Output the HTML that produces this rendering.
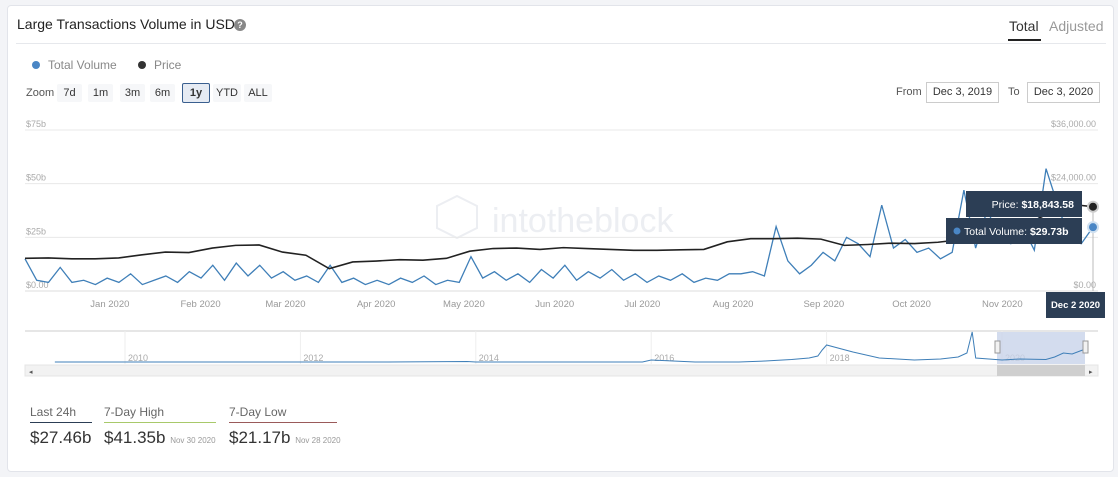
<!DOCTYPE html>
<html><head><meta charset="utf-8">
<style>
body{margin:0;width:1118px;height:477px;background:#f3f4f7;font-family:"Liberation Sans",sans-serif;overflow:hidden;position:relative}
.card{position:absolute;left:7px;top:5px;width:1105px;height:465px;background:#fff;border:1px solid #e2e4ea;border-radius:4px}
.abs{position:absolute;white-space:nowrap}
.btn{position:absolute;top:84px;height:18px;line-height:18px;font-size:11px;color:#333;background:#f6f7f9;text-align:center;border-radius:2px}
.inp{position:absolute;top:82px;height:19px;line-height:19px;font-size:11px;color:#333;border:1px solid #ccc;text-align:center}
</style></head><body>
<div class="card"></div>
<div class="abs" style="left:17px;top:16px;font-size:14px;color:#222">Large Transactions Volume in USD</div>
<div class="abs" style="left:234px;top:19px;width:12px;height:12px;border-radius:6px;background:#888;color:#fff;font-size:9px;line-height:12px;text-align:center;font-weight:bold">?</div>
<div class="abs" style="left:1009px;top:18px;font-size:14px;color:#333">Total</div>
<div class="abs" style="left:1008px;top:39px;width:33px;height:2px;background:#222"></div>
<div class="abs" style="left:1049px;top:18px;font-size:14px;color:#999">Adjusted</div>
<div class="abs" style="left:16px;top:43px;width:1090px;height:1px;background:#e6e8ec"></div>
<div class="abs" style="left:32px;top:58px;font-size:12px;color:#888"><span style="display:inline-block;width:8px;height:8px;border-radius:4px;background:#4a86c5;margin-right:8px"></span>Total Volume</div>
<div class="abs" style="left:138px;top:58px;font-size:12px;color:#888"><span style="display:inline-block;width:8px;height:8px;border-radius:4px;background:#333;margin-right:8px"></span>Price</div>
<div class="abs" style="left:26px;top:87px;font-size:11px;color:#555">Zoom</div>
<div class="btn" style="left:57px;width:25px">7d</div>
<div class="btn" style="left:88px;width:25px">1m</div>
<div class="btn" style="left:120px;width:25px">3m</div>
<div class="btn" style="left:150px;width:25px">6m</div>
<div class="btn" style="left:182px;width:26px;top:83px;border:1.5px solid #3a5f8f;background:#e6ebf3;font-weight:bold">1y</div>
<div class="btn" style="left:213px;width:28px">YTD</div>
<div class="btn" style="left:244px;width:28px">ALL</div>
<div class="abs" style="left:896px;top:86px;font-size:11px;color:#555">From</div>
<div class="inp" style="left:926px;width:71px">Dec 3, 2019</div>
<div class="abs" style="left:1008px;top:86px;font-size:11px;color:#555">To</div>
<div class="inp" style="left:1027px;width:71px">Dec 3, 2020</div>

<svg class="abs" style="left:0;top:0" width="1118" height="477">
<g id="wm" fill="none" stroke="#eceef2" stroke-width="2">
<polygon points="457,196 477,206 477,228 457,238 437,228 437,206"/>
<text x="492" y="232" fill="#eceef2" stroke="none" font-size="34" font-family="Liberation Sans">intotheblock</text>
</g>
<g id="grid"></g><g id="vol"></g><g id="price"></g><g id="nav"></g><g id="tips"></g>
</svg>

<div class="abs" style="left:30px;top:405px;font-size:12px;color:#666">Last 24h</div>
<div class="abs" style="left:30px;top:422px;width:62px;height:1px;background:#2c3e55"></div>
<div class="abs" style="left:30px;top:428px;font-size:17px;color:#333">$27.46b</div>
<div class="abs" style="left:104px;top:405px;font-size:12px;color:#666">7-Day High</div>
<div class="abs" style="left:104px;top:422px;width:112px;height:1px;background:#a8c96a"></div>
<div class="abs" style="left:104px;top:428px;font-size:17px;color:#333">$41.35b <span style="font-size:8px;color:#999">Nov 30 2020</span></div>
<div class="abs" style="left:229px;top:405px;font-size:12px;color:#666">7-Day Low</div>
<div class="abs" style="left:229px;top:422px;width:108px;height:1px;background:#9a5a5a"></div>
<div class="abs" style="left:229px;top:428px;font-size:17px;color:#333">$21.17b <span style="font-size:8px;color:#999">Nov 28 2020</span></div>

<script>
const volumeTicks=[0,25,50,75];
const volumeTickLabels=["$0.00","$25b","$50b","$75b"];
const priceTicks=[0,12000,24000,36000];
const priceTickLabels=["$0.00","","$24,000.00","$36,000.00"];
const monthLabels=["Jan 2020","Feb 2020","Mar 2020","Apr 2020","May 2020","Jun 2020","Jul 2020","Aug 2020","Sep 2020","Oct 2020","Nov 2020"];
const monthDays=[29,60,89,120,150,181,211,242,273,303,334];
const volumeValues=[15,5,4,11,4,5,3,6,4,8,3,5,7,4,9,6,12,5,13,7,12,6,9,5,7,4,12,4,6,3,5,3,6,4,7,3,5,4,16,6,9,5,8,4,10,6,12,5,9,6,10,5,8,4,7,5,8,4,6,5,8,8,9,7,30,14,8,12,18,14,25,22,16,40,20,24,18,20,15,18,47,20,38,24,22,30,19,57,40,24,22,29.73];
const priceDays=[0,8,16,24,32,40,48,56,64,72,80,88,96,104,112,120,128,136,144,152,160,168,176,184,192,200,208,216,224,232,240,248,256,264,272,280,288,296,304,312,320,328,336,344,352,360,365];
const priceValues=[7300,7400,7200,7200,7400,8100,8700,8600,9600,10200,10300,8700,8000,5000,6500,6700,7000,6900,7300,8900,9500,9600,9300,9700,9500,9300,9100,9100,9200,9300,11000,11700,11700,11800,11600,10200,10400,10700,10600,10900,11500,13100,14000,15500,18000,19200,18843.58];
const navYears=[2009.2,2010,2011,2012,2013,2013.9,2014,2014.5,2015,2015.9,2016,2016.5,2017,2017.3,2017.6,2017.8,2017.9,2017.95,2018.0,2018.3,2018.6,2019,2019.3,2019.5,2019.6,2019.66,2019.7,2019.85,2020,2020.2,2020.5,2020.6,2020.7,2020.8,2020.92];
const navValues=[0,0,0,0,0,1,0,0,0,0,4,0,0,2,5,8,12,24,34,20,8,4,6,10,18,60,8,6,4,6,5,10,18,16,24];

const X0=25,X1=1093,Y0=291,YT=130;
const xDay=d=>X0+d*(X1-X0)/365;
const yVol=v=>Y0-v*(Y0-YT)/75;
const yPrice=p=>Y0-p*(Y0-YT)/36000;
const NS="http://www.w3.org/2000/svg";
function mk(tag,attrs,parent,txt){const e=document.createElementNS(NS,tag);for(const k in attrs)e.setAttribute(k,attrs[k]);if(txt!==undefined)e.textContent=txt;parent.appendChild(e);return e;}
const grid=document.getElementById('grid');
volumeTicks.forEach((t,i)=>{
  const l=mk('line',{x1:X0,x2:1098,y1:yVol(t),y2:yVol(t),stroke:i==0?'#ddd':'#e8e8e8'},grid);
  
  
  const tx=mk('text',{x:26,y:yVol(t)-3,'font-size':9,fill:'#aaa','font-family':'Liberation Sans'},grid,volumeTickLabels[i]);
  
  
});
priceTicks.forEach((t,i)=>{
  const tx=mk('text',{x:1096,y:yPrice(t)-3,'font-size':9,fill:'#aaa','text-anchor':'end','font-family':'Liberation Sans'},grid,priceTickLabels[i]);
  
  
});
monthLabels.forEach((m,i)=>{
  const tx=mk('text',{x:xDay(monthDays[i]),y:307,'font-size':9.5,fill:'#999','text-anchor':'middle','font-family':'Liberation Sans'},grid,m);
  
  
});
const vp=mk('polyline',{points:volumeValues.map((v,i)=>xDay(i*365/(volumeValues.length-1))+','+yVol(v)).join(' '),fill:'none',stroke:'#3f7fb8','stroke-width':1.3},document.getElementById('vol'));


const pp=mk('polyline',{points:priceValues.map((p,i)=>xDay(priceDays[i])+','+yPrice(p)).join(' '),fill:'none',stroke:'#222','stroke-width':1.6},document.getElementById('price'));



// navigator
const nav=document.getElementById('nav');
const nx=y=>125+(y-2010)*87.7, ny=v=>362-v*30/60;
const nb=mk('line',{x1:25,x2:1098,y1:331,y2:331,stroke:'#ddd','stroke-width':1.5},nav);


[2010,2012,2014,2016,2018,2020].forEach(y=>{
  const l=mk('line',{x1:nx(y),x2:nx(y),y1:331,y2:364,stroke:'#eee'},nav);
  
  
  const t=mk('text',{x:nx(y)+3,y:361,'font-size':9,fill:'#aaa','font-family':'Liberation Sans'},nav,String(y));
  
  
});
const sel=mk('rect',{x:997,y:332,width:88,height:32,fill:'#c8d3ea',opacity:0.8},nav);


const nl=mk('polyline',{points:navYears.map((y,i)=>nx(y)+','+ny(navValues[i])).join(' '),fill:'none',stroke:'#3f7fb8','stroke-width':1},nav);


const sb=mk('rect',{x:25,y:365,width:1073,height:11,fill:'#f2f2f2',stroke:'#e4e4e4'},nav);


const th=mk('rect',{x:997,y:365,width:88,height:11,fill:'#cfcfcf'},nav);


[[995,341],[1083,341]].forEach(p=>{const h=mk('rect',{x:p[0],y:p[1],width:5,height:12,fill:'#f2f2f2',stroke:'#999'},nav);

});
const la=mk('text',{x:29,y:374,'font-size':7,fill:'#555'},nav,'◂');


const ra=mk('text',{x:1089,y:374,'font-size':7,fill:'#555'},nav,'▸');



// tooltips
const tips=document.getElementById('tips');
const lastX=xDay(365);
const cl=mk('line',{x1:lastX,x2:lastX,y1:yPrice(priceValues[priceValues.length-1]),y2:Y0,stroke:'#bbb'},tips);


const pm=mk('circle',{cx:lastX,cy:yPrice(priceValues[priceValues.length-1]),r:5,fill:'#222',stroke:'#ccc','stroke-width':2},tips);


const vm=mk('circle',{cx:lastX,cy:yVol(volumeValues[volumeValues.length-1]),r:5,fill:'#4a86c5',stroke:'#cfe0f0','stroke-width':2},tips);


const t1=mk('rect',{x:966,y:191,width:116,height:26,fill:'#2c3e55'},tips);


const t1t=mk('text',{x:1074,y:208,'font-size':10.5,fill:'#fff','text-anchor':'end','font-family':'Liberation Sans'},tips);
t1t.innerHTML='Price: <tspan font-weight="bold">$18,843.58</tspan>';
const t2=mk('rect',{x:946,y:218,width:136,height:26,fill:'#2c3e55'},tips);


mk('circle',{cx:957,cy:231,r:3.5,fill:'#4a86c5'},tips);
const t2t=mk('text',{x:964,y:235,'font-size':10.5,fill:'#fff','font-family':'Liberation Sans'},tips);
t2t.innerHTML='Total Volume: <tspan font-weight="bold">$29.73b</tspan>';
const t3=mk('rect',{x:1046,y:292,width:59,height:26,fill:'#2c3e55'},tips);


mk('text',{x:1075.5,y:308,'font-size':9.5,fill:'#fff','font-weight':'bold','text-anchor':'middle','font-family':'Liberation Sans'},tips,'Dec 2 2020');
</script>
</body></html>
